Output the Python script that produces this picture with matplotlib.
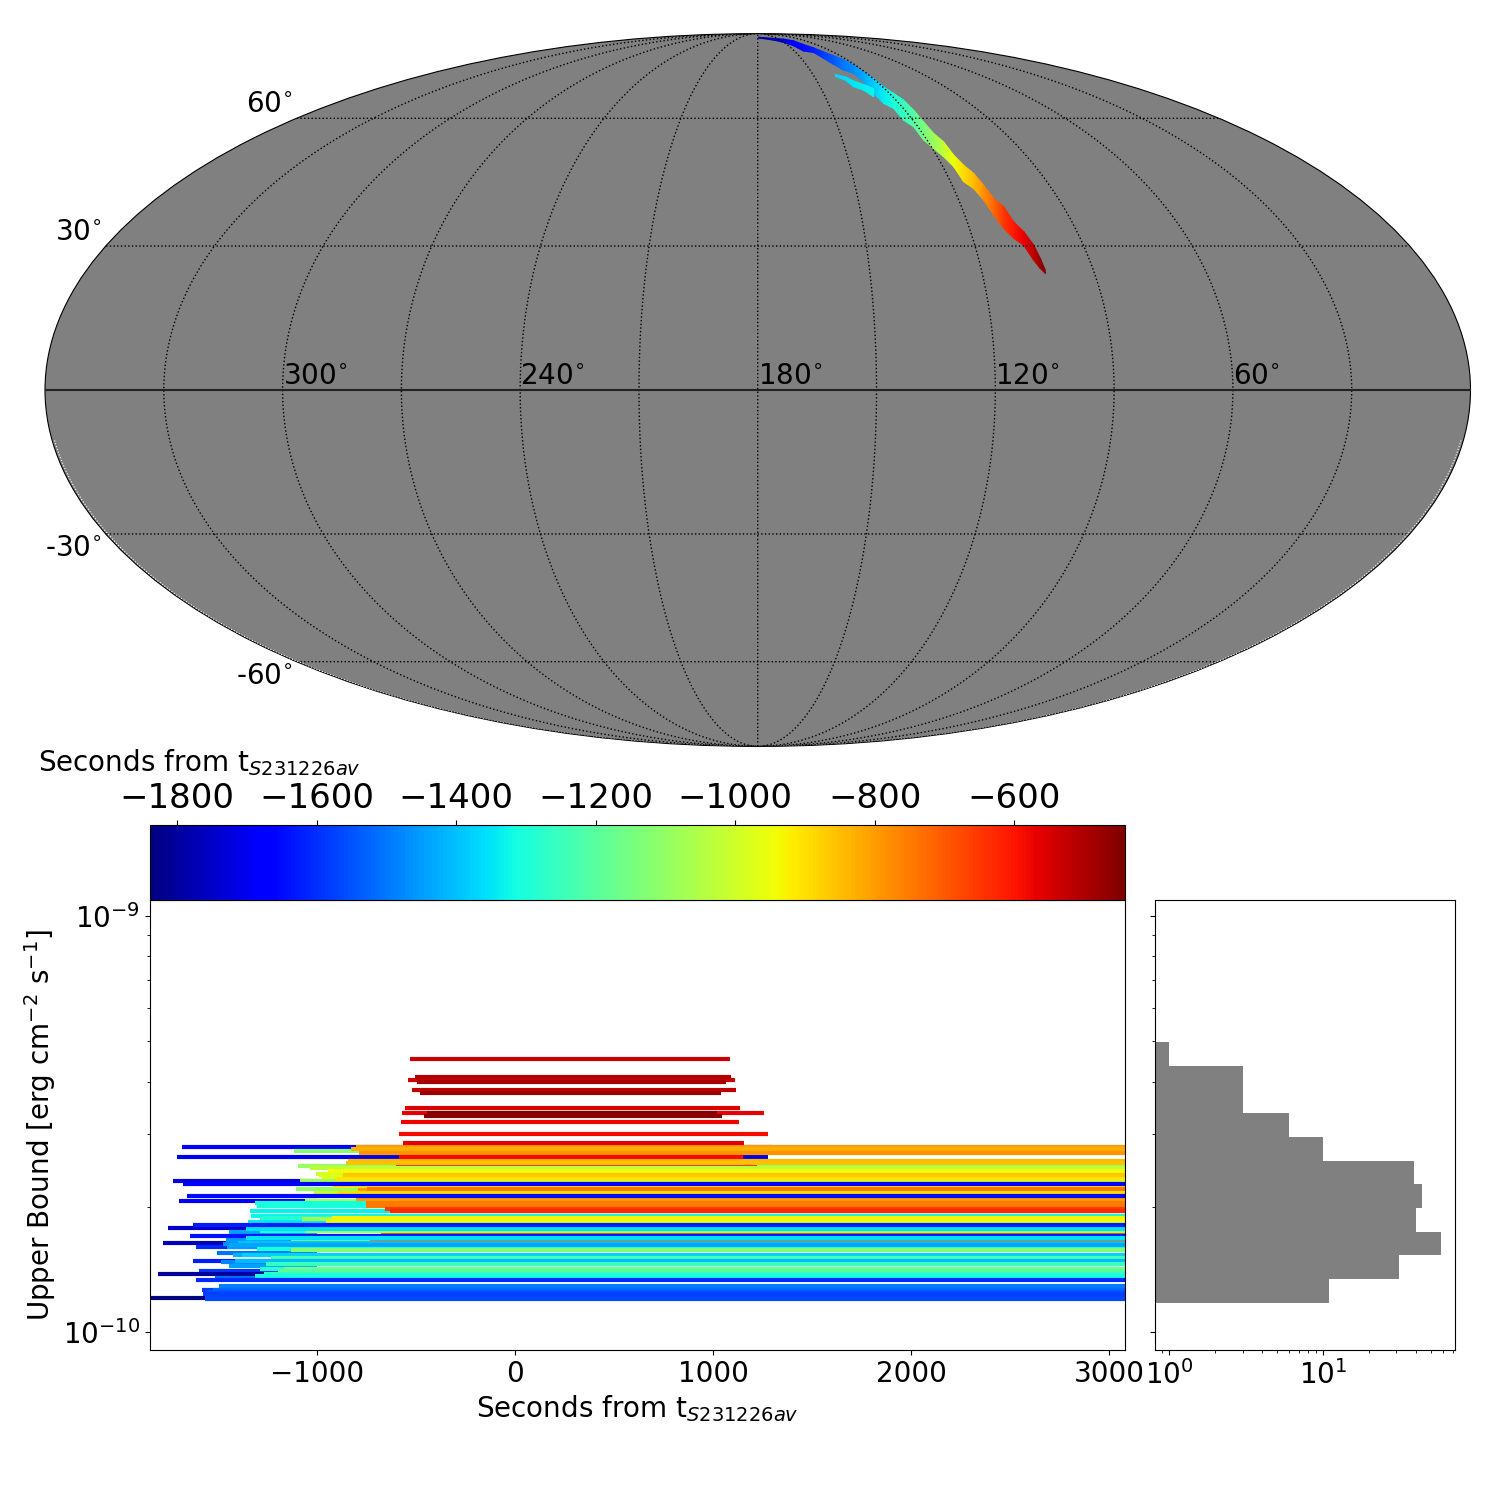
import numpy as np
import matplotlib
matplotlib.use('Agg')
import matplotlib.pyplot as plt
from matplotlib.colors import Normalize
from matplotlib.cm import ScalarMappable
from matplotlib.ticker import NullFormatter

W = 1500.

# sky strip, edges of the region (degrees) and the time of each step
top_ra = [178.5,155.6,142.7,134.6,132.7,129.5,127.2,124.8,122.0,121.1,120.6,119.7,119.5,118.1,116.7,116.4,116.4,116.0,114.6,114.2,113.0,111.3,110.3,109.3,107.6,106.7,105.0,103.7,103.2,102.9]
top_dec = [87.2,86.5,86.1,85.3,83.5,82.1,80.5,79.0,77.6,75.7,73.5,71.3,68.8,66.9,65.0,62.2,59.1,56.1,54.0,50.7,48.3,46.3,43.6,40.5,38.7,35.3,33.1,30.2,27.3,24.9]
bot_ra = [178.7,159.0,150.5,145.1,142.6,136.0,134.6,132.9,130.8,127.3,126.7,127.2,126.5,124.0,123.6,121.6,121.2,119.6,117.9,116.5,115.9,113.9,112.6,111.6,110.3,108.6,106.5,105.2,104.1,103.1]
bot_dec = [86.7,85.6,84.5,83.0,80.8,80.2,78.0,75.9,74.0,72.9,70.3,66.9,64.0,62.7,59.5,57.8,54.4,52.3,50.3,47.9,44.4,42.8,40.2,36.8,33.8,31.7,30.2,27.0,25.2,24.1]
strip_t = [-1810,-1770,-1720,-1680,-1650,-1620,-1580,-1540,-1500,-1470,-1430,-1390,-1340,-1300,-1260,-1210,-1150,-1090,-1020,-950,-890,-850,-780,-720,-650,-610,-570,-520,-470,-445]

# the small side branch next to the strip
branch_top_ra = [137.9,133.7,131.3,128.0,125.1]
branch_top_dec = [72.6,71.9,70.6,69.5,68.3]
branch_bot_ra = [138.8,135.2,133.9,130.5,128.5]
branch_bot_dec = [72.0,70.8,68.8,67.8,65.9]
branch_t = [-1370,-1360,-1350,-1340,-1330]

# upper limit bars: 1e-10 erg/cm2/s, window start and end. Drawn in this order,
# the colour is the start of the window
bar_ub = [2.79,2.63,2.31,2.07,1.78,1.64,1.60,1.48,1.40,1.38,1.26,1.21,
          1.74,1.66,1.63,1.60,1.55,1.53,1.47,1.44,1.35,
          2.72,2.51,2.40,2.38,2.36,2.31,2.21,2.16,2.07,1.95,1.95,1.66,
          2.04,2.01,1.95,1.90,1.84,1.88,1.87,
          2.79,2.76,2.70,2.53,2.58,2.55,2.48,2.44,2.38,2.33,2.63,2.24,2.19,2.21,2.16,2.09,2.04,2.01,1.98,1.95,1.88,1.85,
          1.80,1.72,1.70,1.66,1.68,1.745,1.745,1.77,
          1.64,1.62,1.58,1.57,1.535,1.51,1.48,1.46,1.42,1.42,1.40,1.38,1.36,1.33,1.29,1.26,1.25,1.235,1.21,1.20,
          2.27,2.12,1.81,
          4.53,4.04,4.11,3.99,3.82,3.76,3.46,3.37,3.36,3.30,3.19,3.00,2.84]
bar_start = [-1682,-1703,-1723,-1693,-1748,-1773,-1607,-1622,-1592,-1803,-1577,-1841,
             -1441,-1456,-1471,-1451,-1501,-1421,-1481,-1441,-1511,
             -1113,-1093,-1002,-987,-972,-1083,-1103,-1013,-1058,-1093,-1023,-1128,
             -1310,-1300,-1335,-1330,-1345,-1285,-1075,
             -801,-826,-786,-600,-841,-851,-1033,-942,-866,-907,-584,-917,-791,-746,-892,-801,-751,-751,-655,-630,-922,-952,
             -680,-675,-1637,-730,-1355,-1285,-1055,-1355,
             -1395,-1440,-1300,-1128,-1375,-1229,-1410,-1254,-1285,-1164,-1195,-1264,-1310,-1607,-1491,-1521,-1546,-1575,-1562,-1562,
             -1672,-1652,-1622,
             -529,-539,-504,-494,-519,-479,-554,-569,-445,-459,-574,-584,-564]
bar_end = [1299,1278,-1000,-1000,-1000,-1000,-1000,-1000,-1000,-1000,-1000,-1000,
           -1000,-1000,-1000,-1000,-1000,-1000,-1000,-1000,-1000,
           3200,3200,3200,3200,3200,3200,3200,3200,3200,3200,3200,3200,
           3200,3200,3200,3200,3200,3200,3200,
           3200,3200,3200,1223,3200,3200,3200,3200,3200,3200,1152,3200,3200,3200,3200,3200,3200,3200,3200,3200,3200,3200,
           1278,3200,3200,3200,3200,3200,3200,3200,
           3200,3200,3200,3200,3200,3200,3200,3200,3200,3200,3200,3200,3200,3200,3200,3200,3200,3200,3200,3200,
           3200,3200,3200,
           1087,1112,1092,1067,1117,1042,1137,1258,1020,1047,1132,1278,1157]

# histogram of the upper limits, top bin first
hist_counts = [1,3,3,6,10,39,44,40,58,31,11]
hist_top = 4.98e-10
hist_bottom = 1.175e-10

ra_ticks = [300,240,180,120,60]
dec_ticks = [60,30,-30,-60]

t_min, t_max = -1839, -441
cmap = plt.get_cmap('jet')
norm = Normalize(t_min, t_max)

plt.rcParams['font.size'] = 20

def lon(ra):
    return np.radians(180 - np.asarray(ra, dtype=float))

def fill_band(ax, t_ra, t_dec, b_ra, b_dec, t):
    # two-row mesh between the edges, colour follows the time
    x = np.column_stack([lon(t_ra), lon(b_ra)])
    y = np.radians(np.column_stack([t_dec, b_dec]))
    c = np.column_stack([t, t])
    ax.pcolormesh(x, y, c, cmap=cmap, norm=norm, shading='gouraud', zorder=2)

fig = plt.figure(figsize=(15, 15), dpi=100)

##### sky map
ax_sky = fig.add_axes([45/W, 1-746.5/W, 1425.5/W, 713/W], projection='mollweide')
ax_sky.set_facecolor('gray')
ax_sky.grid(False)
ax_sky.xaxis.set_visible(False)
ax_sky.yaxis.set_visible(False)

fill_band(ax_sky, top_ra, top_dec, bot_ra, bot_dec, strip_t)
fill_band(ax_sky, branch_top_ra, branch_top_dec, branch_bot_ra, branch_bot_dec, branch_t)

# graticule
lat_line = np.radians(np.linspace(-89.9, 89.9, 181))
lon_line = np.radians(np.linspace(-179.9, 179.9, 181))
for ra in range(30, 360, 30):
    ax_sky.plot(np.full(181, lon(ra)), lat_line, color='k', ls=':', lw=1, zorder=3)
for dec in [60, 30, -30, -60]:
    ax_sky.plot(lon_line, np.full(181, np.radians(dec)), color='k', ls=':', lw=1, zorder=3)
ax_sky.plot(lon_line, np.zeros(181), color='#222222', lw=1.5, zorder=3)

# pixelated map leaves a thin broken white rim on the lower half
rim_lat = np.radians(np.linspace(-89.9, -10, 81))
for side in [-1, 1]:
    ax_sky.plot(np.full(81, side*np.radians(179.4)), rim_lat, color='w', ls=':', lw=0.8, zorder=3)

for ra in ra_ticks:
    ax_sky.annotate('%d$^{\\circ}$' % ra, (lon(ra), 0), xytext=(0, 0), textcoords='offset points',
                    ha='left', va='bottom', fontsize=20, zorder=4)
for dec in dec_ticks:
    # label sits on the outside of the ellipse, above or below its line
    ax_sky.annotate('%d$^{\\circ}$' % dec, (-np.pi, np.radians(dec)),
                    xytext=(-3, 0), textcoords='offset points',
                    ha='right', va='bottom' if dec > 0 else 'top', fontsize=20, zorder=4)

##### limits against time
ax_main = fig.add_axes([150/W, 1-1350/W, 975/W, 450/W])
ax_main.hlines(np.array(bar_ub)*1e-10, bar_start, bar_end, colors=cmap(norm(np.array(bar_start))), lw=3)
ax_main.set_yscale('log')
ax_main.set_xlim(-1841, 3079)
ax_main.set_ylim(9.05e-11, 1.093e-9)
ax_main.set_yticks([1e-10, 1e-9])
ax_main.yaxis.set_minor_formatter(NullFormatter())
ax_main.set_xlabel(r'Seconds from t$_{S231226av}$', fontsize=20)
ax_main.set_ylabel(r'Upper Bound [erg cm$^{-2}$ s$^{-1}$]', fontsize=20)
ax_main.tick_params(labelsize=20)

##### colorbar
ax_cbar = fig.add_axes([150/W, 1-900/W, 975/W, 75/W])
cb = fig.colorbar(ScalarMappable(norm=norm, cmap=cmap), cax=ax_cbar, orientation='horizontal')
cb.set_ticks([-1800,-1600,-1400,-1200,-1000,-800,-600])
ax_cbar.xaxis.set_ticks_position('top')
ax_cbar.tick_params(labelsize=24.5)
fig.text(38/W, 1-763/W, r'Seconds from t$_{S231226av}$', fontsize=20, ha='left', va='center')

##### histogram
ax_hist = fig.add_axes([1155/W, 1-1350/W, 300/W, 450/W])
edges = np.geomspace(hist_top, hist_bottom, len(hist_counts)+1)
ax_hist.barh(edges[1:], hist_counts, height=edges[:-1]-edges[1:], align='edge', color='gray')
ax_hist.set_xscale('log')
ax_hist.set_yscale('log')
ax_hist.set_xlim(0.81, 72)
ax_hist.set_ylim(9.05e-11, 1.093e-9)
ax_hist.set_yticks([1e-10, 1e-9])
ax_hist.yaxis.set_major_formatter(NullFormatter())
ax_hist.yaxis.set_minor_formatter(NullFormatter())
ax_hist.tick_params(labelsize=20)

fig.savefig('out.png', dpi=100)
